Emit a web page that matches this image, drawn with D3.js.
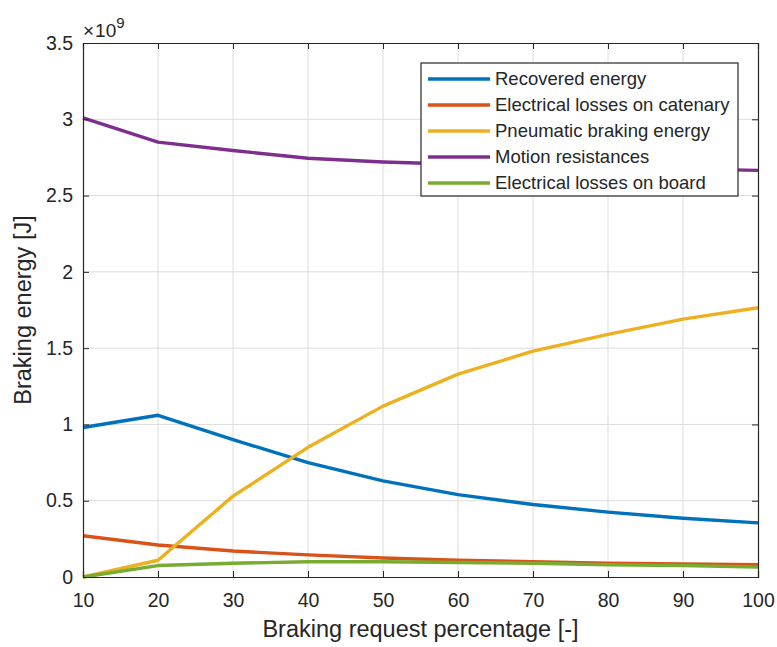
<!DOCTYPE html>
<html>
<head>
<meta charset="utf-8">
<script src="https://cdn.jsdelivr.net/npm/d3@7"></script>
<style>
  html, body { margin: 0; padding: 0; background: #fff; }
  svg text { font-family: "Liberation Sans", Arial, Helvetica, sans-serif; fill: #262626; }
</style>
</head>
<body>
<svg id="chart" width="777" height="647"></svg>
<script>
// Braking request percentage [-]
const requestPct = [10, 20, 30, 40, 50, 60, 70, 80, 90, 100];

// Energy values, in units of 1e9 J
const recoveredEnergy   = [0.98, 1.06, 0.90, 0.75, 0.63, 0.54, 0.475, 0.425, 0.385, 0.355];
const catenaryLosses    = [0.27, 0.21, 0.17, 0.145, 0.125, 0.11, 0.10, 0.09, 0.085, 0.08];
const pneumaticBraking  = [0.0, 0.11, 0.53, 0.85, 1.12, 1.33, 1.48, 1.59, 1.69, 1.765];
const motionResistances = [3.01, 2.85, 2.795, 2.745, 2.72, 2.705, 2.695, 2.685, 2.675, 2.665];
const onBoardLosses     = [0.0, 0.075, 0.09, 0.10, 0.10, 0.095, 0.09, 0.08, 0.075, 0.065];

const seriesNames = [
  "Recovered energy",
  "Electrical losses on catenary",
  "Pneumatic braking energy",
  "Motion resistances",
  "Electrical losses on board"
];
const seriesColors = ["#0072BD", "#D95319", "#EDB120", "#7E2F8E", "#77AC30"];
const seriesValues = [recoveredEnergy, catenaryLosses, pneumaticBraking, motionResistances, onBoardLosses];

const xTicks = [10, 20, 30, 40, 50, 60, 70, 80, 90, 100];
const yTicks = [0, 0.5, 1, 1.5, 2, 2.5, 3, 3.5];

(function draw() {
  const svg = d3.select("#chart");
  const plotLeft = 83, plotRight = 758, plotTop = 43, plotBottom = 577;

  const x = d3.scaleLinear().domain([10, 100]).range([plotLeft, plotRight]);
  const y = d3.scaleLinear().domain([0, 3.5]).range([plotBottom, plotTop]);

  const axisColor = "#262626";
  const gridColor = "#dcdcdc";
  const tickFont = 19.5;

  // grid lines
  const grid = svg.append("g");
  grid.selectAll("line.gx").data(xTicks.slice(1, -1)).join("line").attr("class", "gx")
    .attr("x1", d => x(d)).attr("x2", d => x(d))
    .attr("y1", plotTop).attr("y2", plotBottom)
    .attr("stroke", gridColor).attr("stroke-width", 1);
  grid.selectAll("line.gy").data(yTicks.slice(1, -1)).join("line").attr("class", "gy")
    .attr("x1", plotLeft).attr("x2", plotRight)
    .attr("y1", d => y(d)).attr("y2", d => y(d))
    .attr("stroke", gridColor).attr("stroke-width", 1);

  // data lines
  const line = d3.line()
    .x((d, i) => x(requestPct[i]))
    .y(d => y(d));

  const order = [0, 1, 2, 3, 4];
  svg.append("g").selectAll("path").data(order).join("path")
    .attr("d", i => line(seriesValues[i]))
    .attr("fill", "none")
    .attr("stroke", i => seriesColors[i])
    .attr("stroke-width", 3.4)
    .attr("stroke-linejoin", "round");

  // axes (box with inward ticks on all sides)
  const tickLen = 6;
  const fmt = d => (d === 0 ? "0" : d3.format("~g")(d));

  const bottomAxis = d3.axisBottom(x).tickValues(xTicks).tickSize(-tickLen).tickPadding(16).tickFormat(d3.format("d"));
  const topAxis = d3.axisTop(x).tickValues(xTicks).tickSize(-tickLen).tickFormat("");
  const leftAxis = d3.axisLeft(y).tickValues(yTicks).tickSize(-tickLen).tickPadding(10).tickFormat(fmt);
  const rightAxis = d3.axisRight(y).tickValues(yTicks).tickSize(-tickLen).tickFormat("");

  function styleAxis(g) {
    g.select(".domain").attr("stroke", axisColor).attr("stroke-width", 1.2);
    g.selectAll(".tick line").attr("stroke", axisColor).attr("stroke-width", 1);
    g.selectAll(".tick text").attr("font-size", tickFont).style("fill", "#262626")
      .style("font-family", "'Liberation Sans', Arial, sans-serif");
  }

  svg.append("g").attr("transform", `translate(0,${plotBottom})`).call(bottomAxis).call(styleAxis);
  svg.append("g").attr("transform", `translate(0,${plotTop})`).call(topAxis).call(styleAxis);
  svg.append("g").attr("transform", `translate(${plotLeft},0)`).call(leftAxis).call(styleAxis);
  svg.append("g").attr("transform", `translate(${plotRight},0)`).call(rightAxis).call(styleAxis);

  // exponent label
  const expo = svg.append("text").attr("x", plotLeft).attr("y", 37).attr("font-size", 19);
  expo.append("tspan").text("\u00d7");
  expo.append("tspan").attr("dx", 1).text("10");
  expo.append("tspan").attr("dy", -9).attr("font-size", 15).text("9");

  // axis titles
  svg.append("text")
    .attr("x", (plotLeft + plotRight) / 2).attr("y", 637)
    .attr("text-anchor", "middle").attr("font-size", 23.5)
    .text("Braking request percentage [-]");

  svg.append("text")
    .attr("transform", `translate(31,${(plotTop + plotBottom) / 2}) rotate(-90)`)
    .attr("text-anchor", "middle").attr("font-size", 23.5)
    .text("Braking energy [J]");

  // legend
  const lgX = 421, lgY = 63, lgW = 317, lgH = 133, rowH = 26;
  const legend = svg.append("g");
  legend.append("rect")
    .attr("x", lgX).attr("y", lgY).attr("width", lgW).attr("height", lgH)
    .attr("fill", "#fff").attr("stroke", axisColor).attr("stroke-width", 1.2);
  const rows = legend.selectAll("g.row").data(order).join("g").attr("class", "row")
    .attr("transform", i => `translate(0,${lgY + 16 + i * rowH})`);
  rows.append("line")
    .attr("x1", lgX + 7).attr("x2", lgX + 69)
    .attr("y1", 0).attr("y2", 0)
    .attr("stroke", i => seriesColors[i]).attr("stroke-width", 3.4);
  rows.append("text")
    .attr("x", lgX + 74).attr("y", 0).attr("dy", "0.35em")
    .attr("font-size", 18.5)
    .text(i => seriesNames[i]);
})();
</script>
</body>
</html>
